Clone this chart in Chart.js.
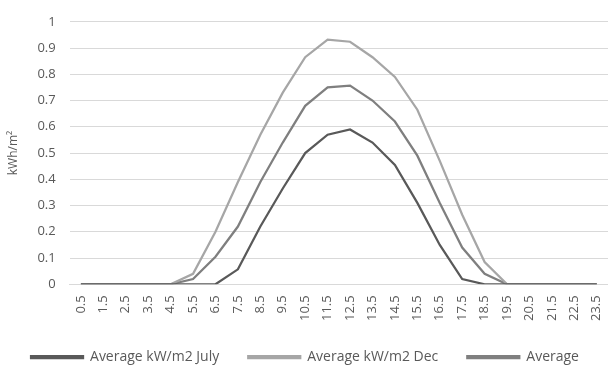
<!DOCTYPE html>
<html lang="en">
<head>
  <meta charset="UTF-8" />
  <title>Average kW/m2</title>
  <style>
    * { box-sizing: border-box; margin: 0; padding: 0; }
    html, body { width: 608px; height: 365px; background: #fff; }
    #wrap { position: relative; width: 608px; height: 365px; }
  </style>
</head>
<body>
  <div id="wrap"><canvas id="chart"></canvas></div>

  <script src="https://cdn.jsdelivr.net/npm/chart.js"></script>
  <script>
    // hours (mid-point of each hour)
    const hours = ['0.5', '1.5', '2.5', '3.5', '4.5', '5.5', '6.5', '7.5', '8.5', '9.5', '10.5', '11.5',
                   '12.5', '13.5', '14.5', '15.5', '16.5', '17.5', '18.5', '19.5', '20.5', '21.5', '22.5', '23.5'];

    const july = [0, 0, 0, 0, 0, 0, 0, 0.057, 0.22, 0.365, 0.5, 0.57,
                  0.59, 0.54, 0.455, 0.31, 0.15, 0.02, 0, 0, 0, 0, 0, 0];
    const dec = [0, 0, 0, 0, 0, 0.04, 0.2, 0.39, 0.57, 0.73, 0.865, 0.932,
                 0.924, 0.865, 0.79, 0.665, 0.47, 0.265, 0.085, 0, 0, 0, 0, 0];
    const avg = [0, 0, 0, 0, 0, 0.02, 0.105, 0.22, 0.39, 0.54, 0.68, 0.75,
                 0.757, 0.70, 0.62, 0.49, 0.31, 0.14, 0.04, 0, 0, 0, 0, 0];

    const seriesNames = ['Average kW/m2 July', 'Average kW/m2 Dec', 'Average'];
    const yTicks = { min: 0, max: 1, step: 0.1 };

    const font = "'Open Sans', 'Liberation Sans', sans-serif";

    function line(label, data, color) {
      return {
        label, data,
        borderColor: color,
        backgroundColor: color,
        borderWidth: 2.25,
        pointRadius: 0,
        tension: 0
      };
    }

    // pull the legend a bit closer to the bottom edge
    const legendShift = {
      id: 'legendShift',
      beforeInit(chart) {
        const fit = chart.legend.fit;
        chart.legend.fit = function () {
          fit.bind(chart.legend)();
          this.height -= 9;
        };
      }
    };

    new Chart(document.getElementById('chart'), {
      type: 'line',
      data: {
        labels: hours,
        datasets: [
          line(seriesNames[0], july, '#595959'),
          line(seriesNames[1], dec, '#a6a6a6'),
          line(seriesNames[2], avg, '#7f7f7f')
        ]
      },
      plugins: [legendShift],
      options: {
        responsive: true,
        maintainAspectRatio: false,
        animation: false,
        layout: { padding: { top: 1, right: 0, left: 2, bottom: 0 } },
        plugins: {
          legend: {
            position: 'bottom',
            labels: {
              boxWidth: 52,
              boxHeight: 2,
              padding: 29,
              color: '#595959',
              font: { family: font, size: 14 }
            }
          },
          tooltip: { enabled: false }
        },
        scales: {
          x: {
            offset: true,
            grid: { display: false, drawTicks: false },
            border: { color: '#d9d9d9', width: 1 },
            afterFit: s => { s.height -= 11; s.paddingRight = 0; },
            ticks: {
              minRotation: 90, maxRotation: 90,
              autoSkip: false,
              padding: 11,
              color: '#595959',
              font: { family: font, size: 13 }
            }
          },
          y: {
            min: yTicks.min, max: yTicks.max,
            grid: { color: '#d9d9d9', lineWidth: 1, drawTicks: false },
            border: { display: false },
            ticks: {
              stepSize: yTicks.step,
              padding: 14,
              color: '#595959',
              font: { family: font, size: 13 },
              callback: v => String(Math.round(v * 10) / 10)
            },
            title: {
              display: true,
              text: 'kWh/m²',
              color: '#595959',
              font: { family: font, size: 12 },
              padding: { bottom: 3 }
            }
          }
        }
      }
    });
  </script>
</body>
</html>
